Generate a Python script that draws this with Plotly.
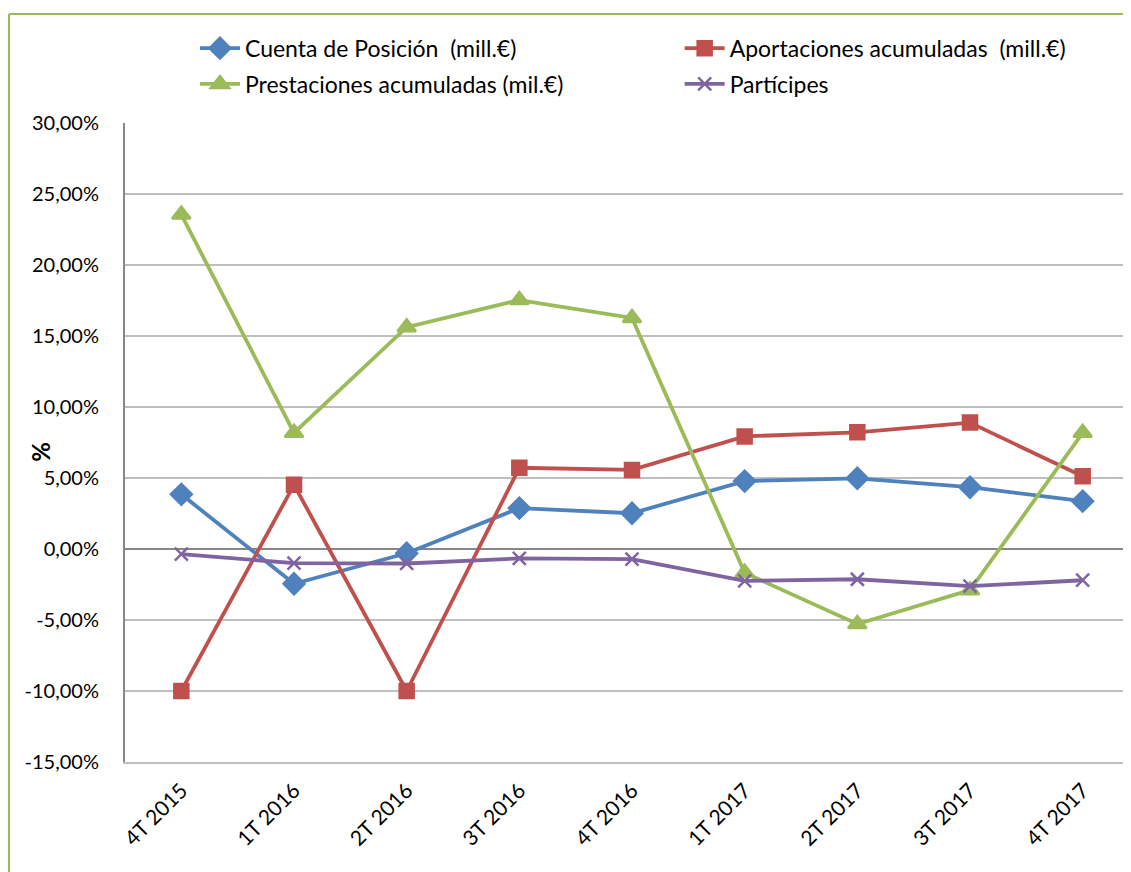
import plotly.graph_objects as go

trimestres = ["4T 2015", "1T 2016", "2T 2016", "3T 2016", "4T 2016",
              "1T 2017", "2T 2017", "3T 2017", "4T 2017"]
cuenta = [3.85, -2.45, -0.30, 2.88, 2.52, 4.78, 4.98, 4.35, 3.37]
aportaciones = [-10.0, 4.52, -10.0, 5.72, 5.57, 7.93, 8.22, 8.90, 5.12]
prestaciones = [23.55, 8.18, 15.62, 17.53, 16.27, -1.68, -5.28, -2.90, 8.18]
participes = [-0.36, -1.00, -1.02, -0.66, -0.72, -2.24, -2.13, -2.62, -2.20]

y_ticks = [-15, -10, -5, 0, 5, 10, 15, 20, 25, 30]
y_labels = ["-15,00%", "-10,00%", "-5,00%", "0,00%", "5,00%",
            "10,00%", "15,00%", "20,00%", "25,00%", "30,00%"]

FONT = "Lato"

fig = go.Figure()

series = [
    ("Cuenta de Posición  (mill.€)", cuenta, "#4F81BD", "diamond", 16, "legend"),
    ("Aportaciones acumuladas  (mill.€)", aportaciones, "#C0504D", "square", 14, "legend2"),
    ("Prestaciones acumuladas (mil.€)", prestaciones, "#9BBB59", "triangle-up", 16, "legend3"),
    ("Partícipes", participes, "#8064A2", "x-thin", 13, "legend4"),
]
for name, vals, color, symbol, size, leg in series:
    fig.add_trace(
        go.Scatter(
            x=trimestres,
            y=vals,
            mode="lines+markers",
            name=name,
            legend=leg,
            showlegend=True,
            line=dict(color=color, width=3.8),
            marker=dict(symbol=symbol, size=size, color=color,
                        line=dict(color=color, width=2.5)),
        )
    )

# green frame of the chart area (cut off at right and bottom)
fig.add_shape(type="line", xref="paper", yref="paper",
              x0=-0.1144, x1=1.2, y0=1.1706, y1=1.1706,
              line=dict(color="#9BBB59", width=2))
fig.add_shape(type="line", xref="paper", yref="paper",
              x0=-0.1144, x1=-0.1144, y0=1.1706, y1=-0.3,
              line=dict(color="#9BBB59", width=2))

fig.add_annotation(
    text="<b>%</b>", xref="paper", yref="paper",
    x=-0.1005, y=0.485, textangle=-90, showarrow=False,
    font=dict(family=FONT, size=24, color="black"),
)

legend_common = dict(
    orientation="h",
    xanchor="left",
    yanchor="middle",
    font=dict(family=FONT, size=23, color="black"),
    bgcolor="rgba(0,0,0,0)",
    itemwidth=40,
    visible=True,
)

fig.update_layout(
    width=1131,
    height=872,
    showlegend=True,
    paper_bgcolor="white",
    plot_bgcolor="white",
    font=dict(family=FONT, size=20, color="black"),
    margin=dict(l=117, r=0, t=115, b=118),
    legend=dict(x=0.069, y=1.117, **legend_common),
    legend2=dict(x=0.547, y=1.117, **legend_common),
    legend3=dict(x=0.069, y=1.061, **legend_common),
    legend4=dict(x=0.547, y=1.061, **legend_common),
    xaxis=dict(
        range=[-0.5, 8.5],
        tickangle=-45,
        showgrid=False,
        showline=True,
        linecolor="#BFBFBF",
        linewidth=2,
        ticks="",
        ticklabelstandoff=6,
        tickfont=dict(family=FONT, size=21),
    ),
    yaxis=dict(
        range=[-15, 30],
        tickvals=y_ticks,
        ticktext=y_labels,
        showgrid=True,
        gridcolor="#BFBFBF",
        gridwidth=1.5,
        zeroline=True,
        zerolinecolor="#868686",
        zerolinewidth=2,
        showline=True,
        linecolor="#868686",
        linewidth=2,
        ticks="",
        ticklabelstandoff=20,
        tickfont=dict(family=FONT, size=20),
    ),
)

fig.write_html("out.html")
